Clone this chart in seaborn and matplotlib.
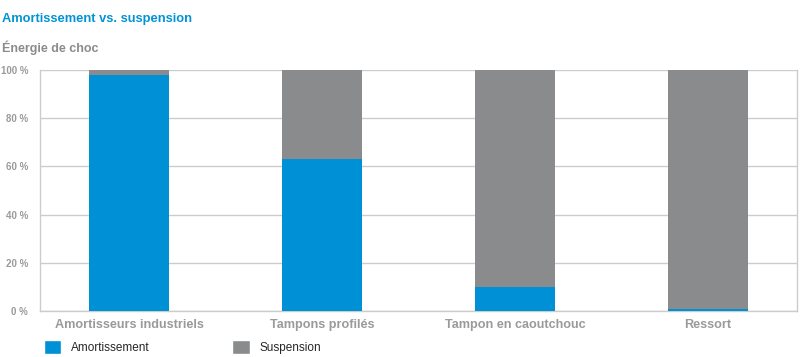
import matplotlib
matplotlib.use("Agg")
import matplotlib.pyplot as plt
import seaborn as sns
import pandas as pd
from matplotlib.patches import Patch

categories = ["Amortisseurs industriels", "Tampons profilés", "Tampon en caoutchouc", "Ressort"]
amortissement = [98, 63, 10, 1]
suspension = [2, 37, 90, 99]
yticks = [0, 20, 40, 60, 80, 100]
ytick_labels = ["0 %", "20 %", "40 %", "60 %", "80 %", "100 %"]

blue = "#0090d5"
gray = "#8a8b8d"
txt = "#9a9a9a"
grid = "#cccccc"

sns.set_theme(style="white")
plt.rcParams["font.family"] = ["Liberation Sans", "DejaVu Sans"]

df = pd.DataFrame({"cat": categories,
                   "amort": amortissement,
                   "total": [a + s for a, s in zip(amortissement, suspension)]})

fig = plt.figure(figsize=(8, 3.57), dpi=100)
ax = fig.add_axes([0.05, 0.129, 0.946, 0.675])

sns.barplot(data=df, x="cat", y="total", color=gray, width=0.415, ax=ax,
            saturation=1, linewidth=0, zorder=3)
sns.barplot(data=df, x="cat", y="amort", color=blue, width=0.415, ax=ax,
            saturation=1, linewidth=0, zorder=4)

ax.set_xlim(-0.461, 3.461)
ax.set_ylim(0, 100)
ax.set_yticks(yticks)
ax.set_yticklabels(ytick_labels)
ax.yaxis.grid(True, color=grid, linewidth=1, zorder=0)
ax.set_axisbelow(True)
for s in ["left", "right", "bottom"]:
    ax.spines[s].set_color(grid)
    ax.spines[s].set_linewidth(1)
ax.spines["top"].set_visible(False)
ax.set_xlabel("")
ax.set_ylabel("")
ax.tick_params(axis="y", length=0, pad=8.5, labelsize=7, labelcolor=txt)
ax.tick_params(axis="x", length=0, pad=6, labelsize=9.1, labelcolor=txt)
for lab in ax.get_yticklabels():
    lab.set_fontweight("bold")
for lab in ax.get_xticklabels():
    lab.set_fontweight("bold")

fig.text(0.003, 0.948, "Amortissement vs. suspension", color="#0093d7",
         fontsize=9.3, fontweight="bold", va="center", ha="left")
fig.text(0.003, 0.866, "Énergie de choc", color="#8a8b8d",
         fontsize=9, fontweight="bold", va="center", ha="left")

handles = [Patch(facecolor=blue, label="Amortissement"),
           Patch(facecolor=gray, label="Suspension")]
fig.legend(handles=handles, loc="center left", bbox_to_anchor=(0.055, 0.027),
           ncol=2, frameon=False, fontsize=8.5, handlelength=1.45, handleheight=1.45,
           handletextpad=0.85, columnspacing=7.0, borderpad=0, borderaxespad=0)

fig.savefig("out.png", dpi=100)
